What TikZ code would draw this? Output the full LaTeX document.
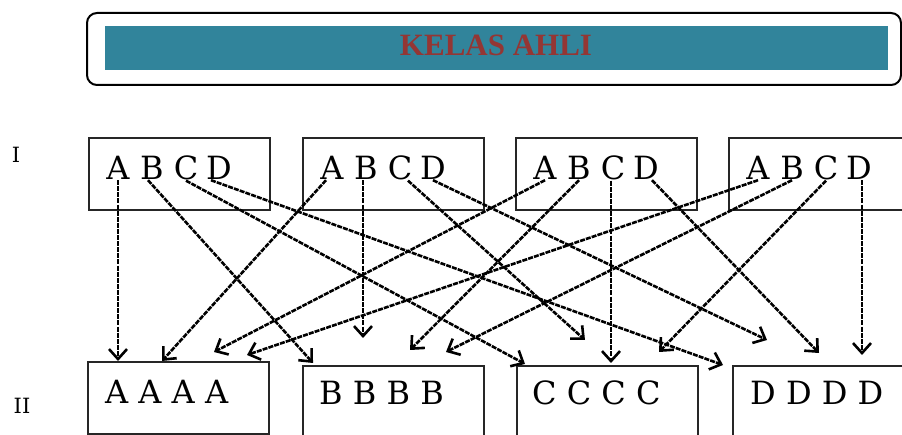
\documentclass[tikz,border=0pt]{standalone}
\usepackage{fontspec}
\setmainfont{DejaVu Serif}
\newfontfamily\titlefont{Liberation Serif}
\usetikzlibrary{arrows.meta}
\definecolor{bandteal}{HTML}{31849B}
\definecolor{titlered}{HTML}{943634}
\begin{document}
\begin{tikzpicture}[x=1pt,y=-1pt,
  box/.style={draw=black!85, line width=1.6pt, minimum width=181pt, minimum height=72pt, inner sep=0pt, anchor=north west},
  letter/.style={font=\fontsize{32}{36}\selectfont, inner sep=0pt, anchor=base},
  rowlabel/.style={font=\fontsize{21}{24}\selectfont, inner sep=0pt, anchor=base},
  link/.style={line width=2.6pt, dash pattern=on 5pt off 1.1pt, -{Straight Barb[length=10pt,width=18pt]}}
]
\useasboundingbox (0,0) rectangle (902,435);
% title
\node[draw=black, line width=2pt, rounded corners=10pt, minimum width=814pt, minimum height=72pt, inner sep=0pt, anchor=north west] (frame) at (86,12) {};
\node[fill=bandteal, minimum width=783pt, minimum height=44pt, inner sep=0pt, anchor=north west] (band) at (105,26) {};
\node[font=\titlefont\bfseries\fontsize{31}{34}\selectfont, text=titlered, inner sep=0pt] (title) at (496,45) {KELAS AHLI};
% row labels
\node[rowlabel] (l1) at (16,163) {I};
\node[rowlabel] (l2) at (22,413) {II};
% top boxes
\node[box] (b1) at (88,137) {};
\node[box] (b2) at (302,137) {};
\node[box] (b3) at (515,137) {};
\node[box] (b4) at (728,137) {};
\foreach \b/\x in {1/88,2/302,3/515,4/728}{
  \node[letter] (t\b a) at (\x+30,180) {A};
  \node[letter] (t\b b) at (\x+64,180) {B};
  \node[letter] (t\b c) at (\x+98,180) {C};
  \node[letter] (t\b d) at (\x+131,180) {D};
}
% bottom boxes
\node[box] (bA) at (87,361) {};
\node[box, minimum height=80pt] (bB) at (302,365) {};
\node[box, minimum height=80pt] (bC) at (516,365) {};
\node[box, minimum height=80pt] (bD) at (732,365) {};
\node[letter, anchor=base west] (xA) at (105,403) {A A A A};
\node[letter, anchor=base west] (xB) at (319,404) {B B B B};
\node[letter, anchor=base west] (xC) at (532,404) {C C C C};
\node[letter, anchor=base west] (xD) at (750,404) {D D D D};
% arrow tips
\coordinate (e1a) at (118,361);
\coordinate (e1b) at (313,363);
\coordinate (e1c) at (525,364);
\coordinate (e1d) at (723,365);
\coordinate (e2a) at (162,361);
\coordinate (e2b) at (363,338);
\coordinate (e2c) at (585,340);
\coordinate (e2d) at (767,340);
\coordinate (e3a) at (214,352);
\coordinate (e3b) at (410,350);
\coordinate (e3c) at (611,363);
\coordinate (e3d) at (819,353);
\coordinate (e4a) at (247,355);
\coordinate (e4b) at (446,352);
\coordinate (e4c) at (659,352);
\coordinate (e4d) at (862,355);
% connectors
\draw[link] (e1a |- t1a.south) -- (e1a);
\draw[link] ([xshift=-4pt]t1b.south) -- (e1b);
\draw[link] (t1c.south) -- (e1c);
\draw[link] ([xshift=-8pt]t1d.south) -- (e1d);
\draw[link] ([xshift=-6pt]t2a.south) -- (e2a);
\draw[link] (e2b |- t2b.south) -- (e2b);
\draw[link] ([xshift=8pt]t2c.south) -- (e2c);
\draw[link] (t2d.south) -- (e2d);
\draw[link] (t3a.south) -- (e3a);
\draw[link] (t3b.south) -- (e3b);
\draw[link] (e3c |- t3c.south) -- (e3c);
\draw[link] ([xshift=6pt]t3d.south) -- (e3d);
\draw[link] (t4a.south) -- (e4a);
\draw[link] (t4b.south) -- (e4b);
\draw[link] (t4c.south) -- (e4c);
\draw[link] (e4d |- t4d.south) -- (e4d);
\end{tikzpicture}
\end{document}
